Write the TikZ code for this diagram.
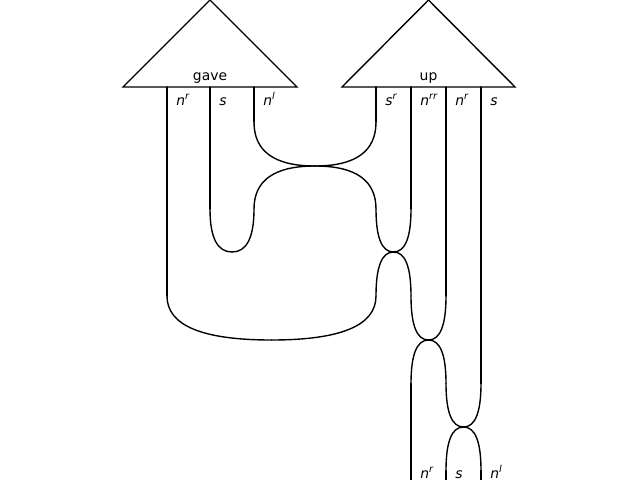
\documentclass[tikz,border=0pt]{standalone}
\usepackage{fontspec}
\setmainfont{DejaVu Sans}
\usetikzlibrary{calc}

\tikzset{
  wire/.style={black, line width=1pt, line cap=round},
  word/.style={anchor=base, inner sep=0pt, font=\fontsize{10}{12}\selectfont},
  lbl/.style={anchor=base west, inner sep=0pt, font=\fontsize{10}{12}\selectfont\itshape},
}

\begin{document}
\begin{tikzpicture}[x=0.72pt, y=-0.72pt]
  \useasboundingbox (0,0) rectangle (640,480);
  % ------- boxes -------
  \draw[wire, line join=miter] (123,87) -- (210,0) -- (297,87) -- cycle;
  \draw[wire, line join=miter] (342,87) -- (428.5,0) -- (515,87) -- cycle;
  \node[word] (gave) at (210,80) {gave};
  \node[word] (up) at (428.5,80) {up};
  % ports
  \foreach \n/\x in {gp1/167,gp2/210,gp3/254,up1/376,up2/411,up3/446,up4/481}
    \coordinate (\n) at (\x,87);
  % ------- cups and swaps -------
  \coordinate (k1) at (315,166);
  \coordinate (k2) at (232,252);
  \coordinate (k3) at (393.5,252);
  \coordinate (k4) at (271.5,340);
  \coordinate (k5) at (428.5,340);
  \coordinate (k6) at (463.5,427);
  % where the wires start to bend
  \foreach \n/\p in {a1/{254,122},a2/{376,122},
                     b1/{210,209},b2/{254,209},b3/{376,209},b4/{411,209},
                     c1/{167,296},c2/{376,296},c3/{411,296},c4/{446,296},
                     d1/{411,383.5},d2/{446,383.5},d3/{481,383.5},
                     e1/{446,470.5},e2/{481,470.5},
                     o1/{411,481},o2/{446,481},o3/{481,481}}
    \coordinate (\n) at (\p);
  % straight runs
  \foreach \a/\b in {gp1/c1,gp2/b1,gp3/a1,up1/a2,up2/b4,up3/c4,up4/d3,d1/o1,e1/o2,e2/o3}
    \draw[wire] (\a) -- (\b);
  % bends: vertical at the wire, level at the node
  \foreach \a/\m in {a1/k1,a2/k1,b2/k1,b3/k1,b1/k2,b2/k2,b3/k3,b4/k3,c2/k3,c3/k3,
                     c1/k4,c2/k4,c3/k5,c4/k5,d1/k5,d2/k5,d2/k6,d3/k6,e1/k6,e2/k6}
    \draw[wire] (\a) .. controls ($(\a)!2/3!(\a|-\m)$) and ($(\m)!2/3!(\a|-\m)$) .. (\m);
  % ------- types -------
  \foreach \n/\x/\t in {lg1/167/{n\textsuperscript{r}},lg2/210/{s},lg3/254/{n\textsuperscript{l}},
                        lu1/376/{s\textsuperscript{r}},lu2/411/{n\textsuperscript{rr}},
                        lu3/446/{n\textsuperscript{r}},lu4/481/{s}}
    \node[lbl] (\n) at ({\x+9},105) {\t};
  \foreach \n/\x/\t in {lo1/411/{n\textsuperscript{r}},lo2/446/{s},lo3/481/{n\textsuperscript{l}}}
    \node[lbl] (\n) at ({\x+9},478) {\t};
\end{tikzpicture}
\end{document}
